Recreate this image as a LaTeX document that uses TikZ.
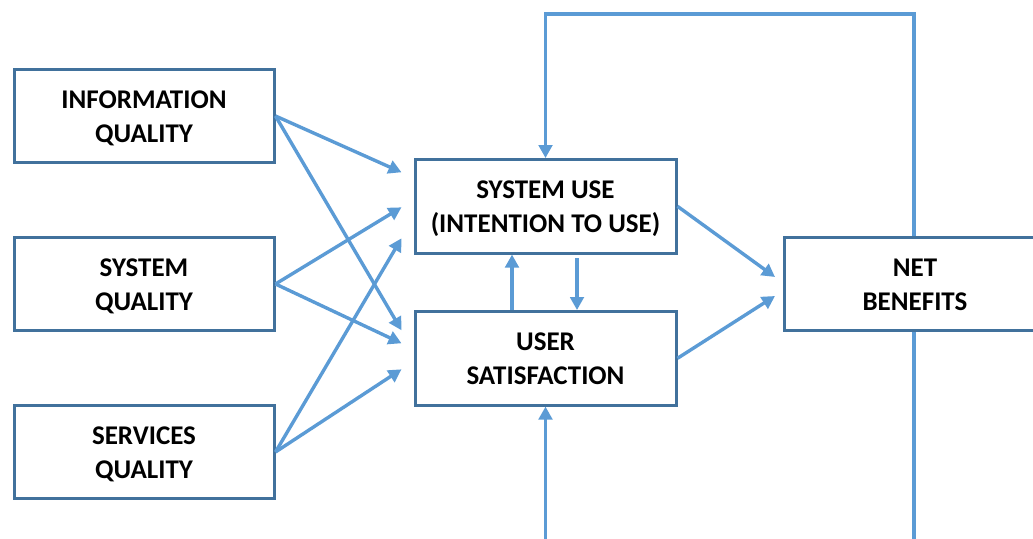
\documentclass[tikz,border=0pt]{standalone}
\usepackage{fontspec}
\setmainfont{Carlito}
\usetikzlibrary{arrows.meta}
\definecolor{boxline}{HTML}{41719C}
\definecolor{arrowline}{HTML}{5B9BD5}

\begin{document}
\begin{tikzpicture}[x=1pt,y=-1pt,
  factor/.style={draw=boxline, line width=3pt, fill=white,
    minimum width=260pt, minimum height=93.5pt, inner sep=0pt,
    text height=54pt, text depth=2pt,
    align=center, font=\fontsize{27}{34}\selectfont\bfseries},
  link/.style={draw=arrowline, line width=3.4pt,
    -{Triangle[length=13pt,width=13.5pt]}},
  wire/.style={draw=arrowline, line width=3.4pt}]

\useasboundingbox (0,0) rectangle (1033,538);

% success factors
\node[factor] (iq)  at (144,116) {INFORMATION\\QUALITY};
\node[factor] (sq)  at (144,284) {SYSTEM\\QUALITY};
\node[factor] (svq) at (144,452) {SERVICES\\QUALITY};
\node[factor, minimum width=261pt] (su) at (545.5,206.3) {SYSTEM USE\\(INTENTION TO USE)};
\node[factor, minimum width=261pt] (us) at (545.5,358.3) {USER\\SATISFACTION};
\node[factor, minimum width=261pt] (nb) at (915,284) {NET\\BENEFITS};

% quality dimensions feed use and satisfaction
\draw[link] (iq.east)  -- ([xshift=-12pt,yshift=34pt]su.west);
\draw[link] (sq.east)  -- ([xshift=-12pt,yshift=-1pt]su.west);
\draw[link] (svq.east) -- ([xshift=-12pt,yshift=-32pt]su.west);
\draw[link] (iq.east)  -- ([xshift=-12pt,yshift=28pt]us.west);
\draw[link] (sq.east)  -- ([xshift=-12pt,yshift=15pt]us.west);
\draw[link] (svq.east) -- ([xshift=-12pt,yshift=-11pt]us.west);

% use <-> satisfaction
\draw[link] ([xshift=-33.5pt]us.north) -- ([xshift=-33.5pt]su.south);
\draw[link] ([xshift=31.5pt,yshift=-3.5pt]su.south) -- ([xshift=31.5pt]us.north);

% both lead to net benefits
\draw[link] (su.east) -- ([xshift=-8pt,yshift=7pt]nb.west);
\draw[link] (us.east) -- ([xshift=-8pt,yshift=-12pt]nb.west);

% feedback loops
\coordinate (ceiling) at (0,14);
\coordinate (floor) at (0,545);
\draw[link] ([xshift=-1pt]nb.north) -- ([xshift=-1pt]nb.north |- ceiling)
  -- (su.north |- ceiling) -- (su.north);
\draw[wire] ([xshift=-1pt]nb.south) -- ([xshift=-1pt]nb.south |- floor);
\draw[link] (us.south |- floor) -- (us.south);
\end{tikzpicture}
\end{document}
